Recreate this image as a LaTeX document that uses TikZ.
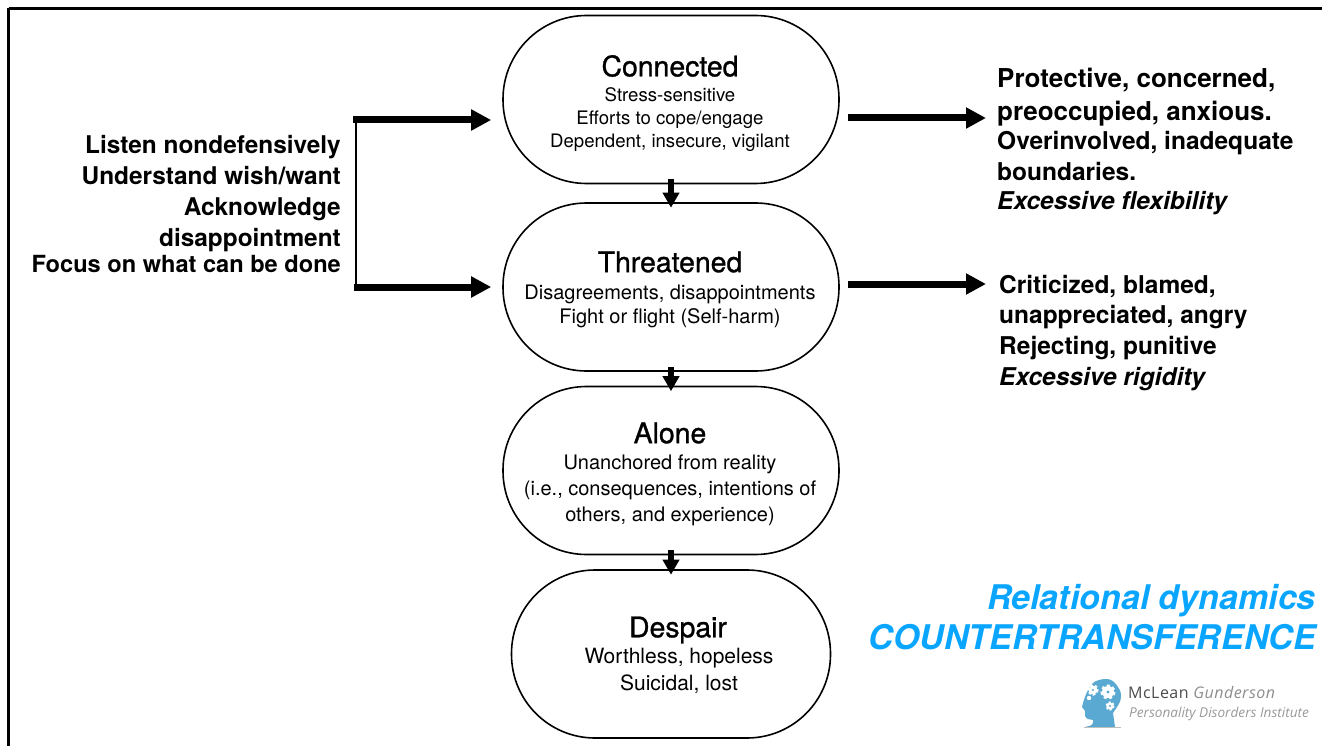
\documentclass[tikz,border=0pt]{standalone}
\usepackage{fontspec}
\setmainfont{TeX Gyre Heros}
\newfontfamily\medfont[FakeBold=1]{TeX Gyre Heros}
\newfontfamily\logofont{Open Sans}
\newfontfamily\logospaced[LetterSpace=3]{Open Sans}
\usetikzlibrary{arrows.meta}
\definecolor{titleblue}{HTML}{0AA5FF}
\definecolor{logoblue}{HTML}{5AA9D2}
\newcommand{\fs}[2]{\fontsize{#1}{#2}\selectfont}
\tikzset{
  x=1pt,y=-1pt,
  stadium/.style={draw,line width=1.6pt,minimum height=168pt,rounded corners=83.5pt,inner sep=0pt},
  state/.style={align=center,inner sep=0pt},
  heading/.style={inner sep=0pt,font=\medfont\fs{28.4}{32}},
  side/.style={align=left,inner sep=0pt,anchor=north west,font=\bfseries\fs{24.5}{30.5}},
  fat/.style={line width=7pt,-{Triangle[length=20pt,width=20pt]}},
  short/.style={line width=5.5pt,shorten <=-5pt,shorten >=-5.5pt,-{Triangle[length=15pt,width=16pt]}},
}
\begin{document}
\begin{tikzpicture}
\useasboundingbox (0,0) rectangle (1322,746);
\draw[line width=3pt] (8.5,8.5) -- (1322,8.5);
\draw[line width=3pt] (8.5,8.5) -- (8.5,746);
% state shapes
\node[stadium,minimum width=336pt] (conn) at (671,99.5) {};
\node[stadium,minimum width=336pt] (thr) at (671,287) {};
\node[stadium,minimum width=336pt] (alone) at (671,470.5) {};
\node[stadium,minimum width=319pt] (desp) at (671,654) {};
% state text
\node[heading] (t1) at (670,66) {Connected};
\node[state,font=\fs{18.6}{23}] (s1) at (670,120) {Stress-sensitive\\Efforts to cope/engage\\Dependent, insecure, vigilant};
\node[heading] (t2) at (670,262) {Threatened};
\node[state,font=\fs{20}{24}] (s2) at (670,306.5) {Disagreements, disappointments\\Fight or flight (Self-harm)};
\node[heading] (t3) at (670,433) {Alone};
\node[state,font=\fs{20}{26}] (s3) at (670,490) {Unanchored from reality\\(i.e., consequences, intentions of\\others, and experience)};
\node[heading] (t4) at (678,630) {Despair};
\node[state,font=\fs{21}{27}] (s4) at (679,671) {Worthless, hopeless\\Suicidal, lost};
% vertical connectors
\draw[short] (conn.south) -- (thr.north);
\draw[short] (thr.south) -- (alone.north);
\draw[short] (alone.south) -- (desp.north);
% left block
\node[align=right,font=\bfseries\fs{24.4}{31},inner sep=0pt,anchor=north east] (lft) at (341,135) {Listen nondefensively\\Understand wish/want\\Acknowledge\\disappointment\\[-5pt]{\fs{23.6}{28}Focus on what can be done}};
\coordinate (a1) at (353,120);
\coordinate (a2) at (354,287);
\draw[line width=1.8pt] (356,120) -- (356,287);
\draw[fat,shorten >=11pt] (a1) -- (a1 -| conn.west);
\draw[fat,shorten >=11pt] (a2) -- (a2 -| thr.west);
% right arrows
\coordinate (b1) at (848,118);
\coordinate (b2) at (848,284);
\coordinate (c1) at (986,118);
\coordinate (c2) at (986,284);
\draw[fat] (b1) -- (c1);
\draw[fat] (b2) -- (c2);
% right text
\node[side] (r1) at (997,68) {{\fs{26}{30.5}Protective, concerned,}\\[2.5pt]{\fs{26}{30.5}preoccupied, anxious.}\\[-1.5pt]Overinvolved, inadequate\\[0.5pt]boundaries.\\[-1.5pt]\textit{Excessive flexibility}};
\node[side] (r2) at (999,275) {Criticized, blamed,\\unappreciated, angry\\Rejecting, punitive\\[1pt]\textit{Excessive rigidity}};
% title
\node[align=right,text=titleblue,font=\bfseries\itshape\fs{34}{40},inner sep=0pt,anchor=north east] (title) at (1316,584) {Relational dynamics\\COUNTERTRANSFERENCE};
% logo
\fill[logoblue] (1115,727) -- (1113,713) .. controls (1117,707) and (1121,702) .. (1121,697) .. controls (1121,692) and (1120,689) .. (1118,687) .. controls (1115,682) and (1111,679) .. (1107,679) .. controls (1102,679) and (1096,680) .. (1093,683) .. controls (1088,688) and (1085,696) .. (1083,703) -- (1082,707) -- (1085,711) -- (1085,716) .. controls (1086,719) and (1090,720) .. (1093,720) -- (1093,723) .. controls (1092,726) and (1088,726) .. (1085,727) -- cycle;
\draw[black!25,line width=0.5pt] (1084,727.5) -- (1121,727.5);
\draw[white,line width=2.4pt,dash pattern=on 2.4pt off 2.1pt] (1093,690) circle[radius=4.5];
\fill[white] (1093,690) circle[radius=4.5];
\fill[logoblue] (1093,690) circle[radius=1.2];
\draw[white,line width=3pt,dash pattern=on 2.8pt off 2.6pt] (1108,692) circle[radius=6];
\fill[white] (1108,692) circle[radius=6];
\fill[logoblue] (1108,692) circle[radius=1.6];
\draw[white,line width=2pt,dash pattern=on 2pt off 1.8pt] (1110,706) circle[radius=3.6];
\fill[white] (1110,706) circle[radius=3.6];
\fill[logoblue] (1110,706) circle[radius=1.2];
\fill[white] (1089,698) circle[radius=2.2];
\node[anchor=west,inner sep=0pt,text=black!70,font=\logospaced\fs{16}{18}] (l1) at (1128,692) {McLean \textcolor{black!45}{\textit{Gunderson}}};
\node[anchor=west,inner sep=0pt,text=black!40,font=\logofont\itshape\fs{13.6}{15}] (l2) at (1129,714) {Personality Disorders Institute};
\end{tikzpicture}
\end{document}
